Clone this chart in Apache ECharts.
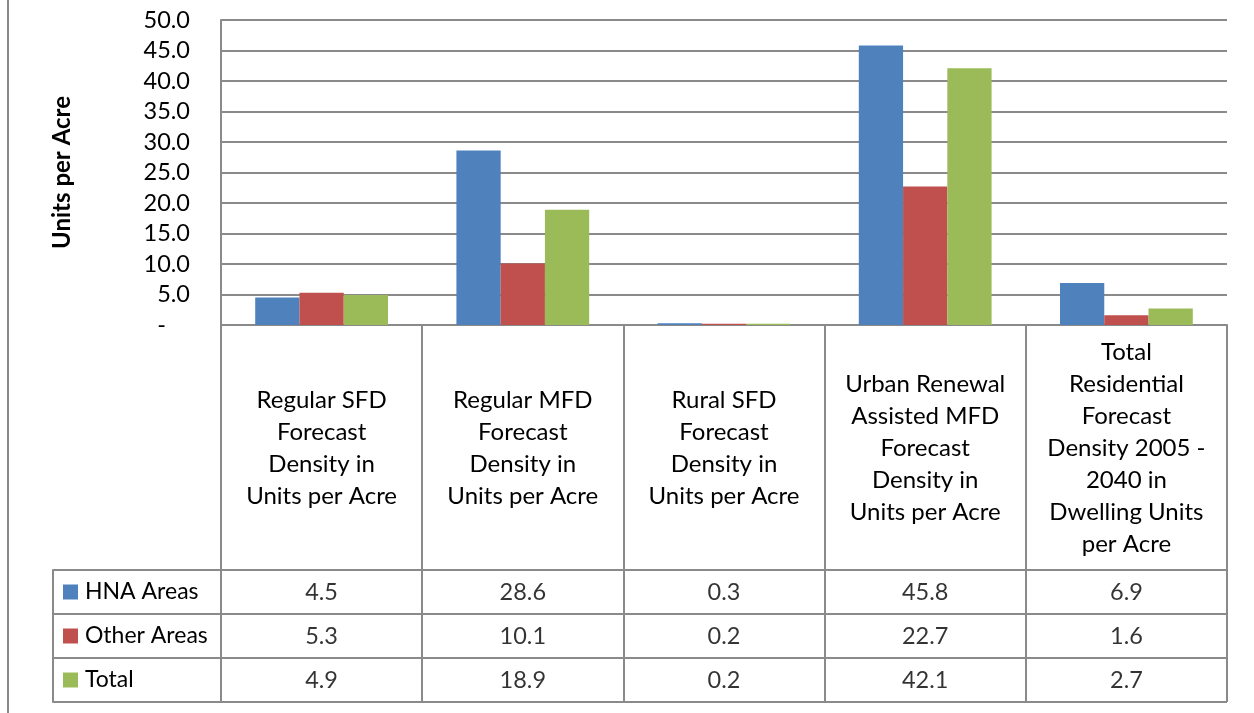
<!DOCTYPE html>
<html>
<head>
<meta charset="utf-8">
<script src="https://cdn.jsdelivr.net/npm/echarts@6/dist/echarts.min.js"></script>
<style>
  html, body { margin: 0; padding: 0; background: #fff; }
  #chart { width: 1254px; height: 713px; }
</style>
</head>
<body>
<div id="chart"></div>
<script>
// Forecast density categories (multi-line labels as shown under the bars)
const categories = [
  'Regular SFD\nForecast\nDensity in\nUnits per Acre',
  'Regular MFD\nForecast\nDensity in\nUnits per Acre',
  'Rural SFD\nForecast\nDensity in\nUnits per Acre',
  'Urban Renewal\nAssisted MFD\nForecast\nDensity in\nUnits per Acre',
  'Total\nResidential\nForecast\nDensity 2005 -\n2040 in\nDwelling Units\nper Acre'
];
const seriesNames = ['HNA Areas', 'Other Areas', 'Total'];
const hnaAreas   = [4.5, 28.6, 0.3, 45.8, 6.9];
const otherAreas = [5.3, 10.1, 0.2, 22.7, 1.6];
const totalAreas = [4.9, 18.9, 0.2, 42.1, 2.7];
const yTicks = { min: 0, max: 50, step: 5 };

const colors = ['#4F81BD', '#C0504D', '#9BBB59'];
const lineGrey = '#8a8a8a';
const font = 'Lato, "Open Sans", sans-serif';
const seriesValues = [hnaAreas, otherAreas, totalAreas];

// Data-table cells: [categoryIndex, rowIndex, value]
const tableCells = [];
seriesValues.forEach((vals, r) => vals.forEach((v, c) => tableCells.push([c, r, v])));

const richKeys = {};
seriesNames.forEach((n, i) => {
  richKeys['sq' + i] = { width: 15, height: 15, backgroundColor: colors[i] };
});
richKeys.t = { fontSize: 23, fontFamily: font, color: '#000', padding: [0, 0, 0, 7] };

const chart = echarts.init(document.getElementById('chart'), null, { renderer: 'canvas' });

chart.setOption({
  animation: false,
  backgroundColor: '#fff',
  textStyle: { fontFamily: font },
  graphic: [{
    type: 'line',
    shape: { x1: 8, y1: 0, x2: 8, y2: 713 },
    style: { stroke: lineGrey, lineWidth: 2 }
  }],
  grid: [
    { left: 221, right: 27, top: 20, bottom: 388 },
    { left: 221, right: 27, top: 570, bottom: 11 }
  ],
  xAxis: [
    {
      gridIndex: 0,
      type: 'category',
      data: categories,
      axisLine: { show: true, lineStyle: { color: lineGrey, width: 2 } },
      axisTick: { show: true, interval: 0, length: 377, lineStyle: { color: lineGrey, width: 2 } },
      axisLabel: {
        interval: 0, margin: 123, verticalAlign: 'middle',
        fontSize: 24, lineHeight: 32, color: '#000', fontFamily: font, align: 'center'
      },
      splitLine: { show: false }
    },
    {
      gridIndex: 1,
      type: 'category',
      data: categories,
      show: false
    }
  ],
  yAxis: [
    {
      gridIndex: 0,
      type: 'value',
      min: yTicks.min, max: yTicks.max, interval: yTicks.step,
      name: 'Units per Acre',
      nameLocation: 'middle',
      nameGap: 147,
      nameTextStyle: { fontSize: 24, fontWeight: 'bold', color: '#000', fontFamily: font },
      axisLine: { show: true, lineStyle: { color: lineGrey, width: 2 } },
      axisTick: { show: false },
      axisLabel: {
        margin: 31, fontSize: 23.5, color: '#000', fontFamily: font,
        formatter: v => (v === 0 ? '-    ' : v.toFixed(1))
      },
      splitLine: { show: true, lineStyle: { color: lineGrey, width: 2 } }
    },
    {
      gridIndex: 1,
      type: 'category',
      data: seriesNames,
      inverse: true,
      axisLine: { show: false },
      axisTick: { show: true, interval: 0, length: 168, lineStyle: { color: lineGrey, width: 2 } },
      splitLine: { show: true, interval: 0, lineStyle: { color: lineGrey, width: 2 } },
      axisLabel: {
        interval: 0, margin: 158, align: 'left',
        formatter: (v, i) => '{sq' + i + '|}{t|' + v + '}',
        rich: richKeys
      }
    },
    {
      gridIndex: 1,
      type: 'category',
      data: seriesNames,
      inverse: true,
      position: 'left',
      offset: 168,
      axisLine: { show: true, lineStyle: { color: lineGrey, width: 2 } },
      axisTick: { show: false },
      axisLabel: { show: false },
      splitLine: { show: false }
    }
  ],
  series: [
    ...seriesNames.map((name, i) => ({
      name,
      type: 'bar',
      xAxisIndex: 0,
      yAxisIndex: 0,
      data: seriesValues[i],
      barGap: 0,
      barCategoryGap: '34%',
      itemStyle: { color: colors[i] }
    })),
    {
      type: 'scatter',
      xAxisIndex: 1,
      yAxisIndex: 1,
      data: tableCells,
      symbolSize: 1,
      itemStyle: { color: 'rgba(0,0,0,0)' },
      silent: true,
      label: {
        show: true, position: 'inside',
        fontSize: 23.5, color: '#000', fontFamily: font,
        formatter: p => p.value[2].toFixed(1)
      }
    }
  ]
});
</script>
</body>
</html>
